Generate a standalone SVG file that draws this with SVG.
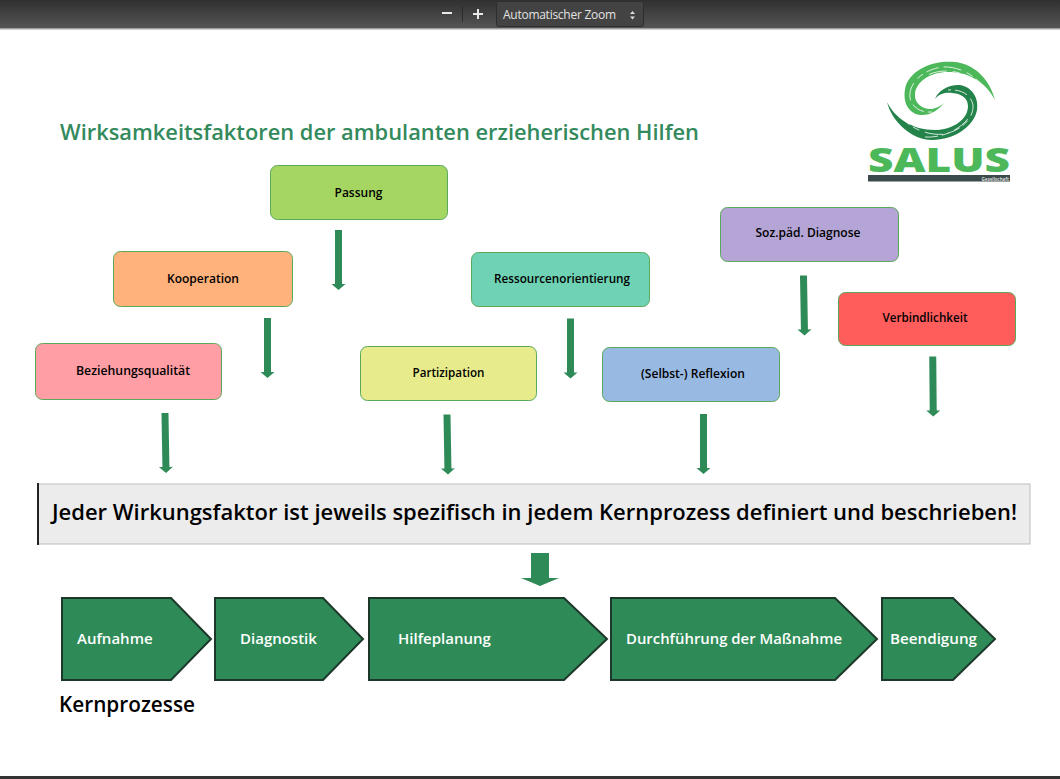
<svg xmlns="http://www.w3.org/2000/svg" width="1060" height="779" viewBox="0 0 1060 779">
<style>
text{font-family:"Open Sans","Liberation Sans",sans-serif}
.b{stroke-width:1;stroke:#5aa95a}
.l{font-size:12px;font-weight:600;fill:#000;text-anchor:middle}
.p{fill:#2e8b57;stroke:#1d382b;stroke-width:2}
.pl{font-size:15px;font-weight:600;fill:#fff}
.a{fill:#2e8b57}
.s{fill:none;stroke:#fff;stroke-width:.8;stroke-dasharray:13 4 7 6 18 5}
</style>
<defs>
<linearGradient id="tb" x1="0" y1="0" x2="0" y2="1"><stop offset="0" stop-color="#303030"/><stop offset="1" stop-color="#555"/></linearGradient>
<path id="ar" d="M-3.500 0H3.500V54H7L0 60L-7 54H-3.500Z"/>
</defs>
<rect width="1060" height="779" fill="#fff"/>
<g id="toolbar">
<rect width="1060" height="28" fill="url(#tb)"/>
<rect y="28" width="1060" height="1.500" fill="#a0a0a0"/>
<rect x="442" y="12" width="10" height="2" fill="#e8e8e8"/>
<rect x="462" y="6" width="1" height="16" fill="#2c2c2c"/>
<path d="M473 13h10v2h-10zM477 9h2v10h-2z" fill="#e8e8e8"/>
<rect x="496.500" y="1.500" width="147" height="25" rx="2" fill="#434343" stroke="#2e2e2e"/>
<text x="503" y="19" font-size="12" fill="#e2e2e2" textLength="113">Automatischer Zoom</text>
<path d="M630 14l2.500-3l2.500 3zM630 16.500l2.500 3l2.500-3z" fill="#ddd"/>
</g>
<text id="title" x="60" y="140" font-size="21.800" font-weight="600" fill="#338a5c" textLength="639" lengthAdjust="spacingAndGlyphs">Wirksamkeitsfaktoren der ambulanten erzieherischen Hilfen</text>
<g id="logo">
<path d="M995 100C986 82 968 72 948 72C930 72 916 82 915 94C914 104 924 110 932 109C937 108 941 106 944 103C938 110 930 116 920 115C906 113 902 98 906 85C913 68 935 60 955 62C975 64 990 80 995 100Z" fill="#4cb85a"/>
<path d="M887 102C895 118 912 130 935 130C952 130 968 120 968 106C968 95 955 92 945 93C940 94 937 96 935 99C938 90 950 84 960 85C972 87 979 98 977 110C974 126 955 140 932 140C912 140 892 122 887 102Z" fill="#23834a"/>
<path class="s" d="M985 88C972 72 955 66 942 67C922 70 908 84 910 98C912 108 922 113 932 112"/>
<path class="s" d="M975 80C960 70 940 68 926 76"/>
<path class="s" d="M900 116C912 130 930 136 945 134C962 130 974 118 973 105C971 94 960 89 948 90"/>
<path class="s" d="M925 137C945 138 962 128 970 116"/>
<rect x="868" y="175" width="142" height="6.500" fill="#3b4a4a"/>
<text x="868" y="172" font-size="33.500" font-weight="800" fill="#4cb85a" textLength="142" lengthAdjust="spacingAndGlyphs">SALUS</text>
<text x="1009" y="180.500" font-size="4.500" font-weight="700" text-anchor="end" fill="#ddd">Gesellschaft</text>
</g>
<g id="connectors" class="a">
<use href="#ar" x="338.500" y="230"/>
<use href="#ar" x="267.500" y="318"/>
<use href="#ar" x="165.500" y="413" transform="rotate(-1 165 443)"/>
<use href="#ar" x="570.500" y="318.500"/>
<use href="#ar" x="447.500" y="414.500" transform="rotate(-1 447 444)"/>
<use href="#ar" x="703.500" y="414"/>
<use href="#ar" x="804" y="275.500" transform="rotate(-1 804 305)"/>
<use href="#ar" x="933" y="356.500" transform="rotate(-.5 933 386)"/>
<path d="M531 553H549V578H559L540 586L521 578H531Z"/>
</g>
<g id="n-passung"><rect class="b" x="270.500" y="165.500" width="177" height="54" rx="7" fill="#a5d662"/><text class="l" x="358.500" y="197">Passung</text></g>
<g id="n-kooperation"><rect class="b" x="113.500" y="251.500" width="179" height="55" rx="7" fill="#ffb27c"/><text class="l" x="203" y="283">Kooperation</text></g>
<g id="n-beziehung"><rect class="b" x="35.500" y="343.500" width="186" height="56" rx="7" fill="#ff9fa5"/><text class="l" x="133" y="375" textLength="114" lengthAdjust="spacingAndGlyphs">Beziehungsqualität</text></g>
<g id="n-ressourcen"><rect class="b" x="471.500" y="252.500" width="178" height="54" rx="7" fill="#6fd2b4"/><text class="l" x="562" y="283" textLength="136" lengthAdjust="spacingAndGlyphs">Ressourcenorientierung</text></g>
<g id="n-partizipation"><rect class="b" x="360.500" y="346.500" width="176" height="54" rx="7" fill="#e8eb8c"/><text class="l" x="448.500" y="377" textLength="72" lengthAdjust="spacingAndGlyphs">Partizipation</text></g>
<g id="n-reflexion"><rect class="b" x="602.500" y="347.500" width="177" height="54" rx="7" fill="#98b9e2"/><text class="l" x="693" y="378" textLength="104" lengthAdjust="spacingAndGlyphs">(Selbst-) Reflexion</text></g>
<g id="n-diagnose"><rect class="b" x="720.500" y="207.500" width="178" height="54" rx="7" fill="#b4a5d6"/><text class="l" x="808" y="237" textLength="105" lengthAdjust="spacingAndGlyphs">Soz.päd. Diagnose</text></g>
<g id="n-verbindlichkeit"><rect class="b" x="838.500" y="292.500" width="177" height="53" rx="7" fill="#ff5c5c"/><text class="l" x="925" y="322" textLength="85" lengthAdjust="spacingAndGlyphs">Verbindlichkeit</text></g>
<g id="n-banner">
<rect x="38" y="484" width="992" height="60" fill="#ececec" stroke="#bdbdbd"/>
<rect x="37" y="483" width="2" height="62" fill="#222"/>
<text x="52" y="520" font-size="21.800" font-weight="600" fill="#000" textLength="965" lengthAdjust="spacingAndGlyphs">Jeder Wirkungsfaktor ist jeweils spezifisch in jedem Kernprozess definiert und beschrieben!</text>
</g>
<g id="n-aufnahme"><path class="p" d="M62 598H171L211 639L171 680H62Z"/><text class="pl" x="77" y="644">Aufnahme</text></g>
<g id="n-diagnostik"><path class="p" d="M215 598H323L363 639L323 680H215Z"/><text class="pl" x="240" y="644">Diagnostik</text></g>
<g id="n-hilfeplanung"><path class="p" d="M369 598H564L607 639L564 680H369Z"/><text class="pl" x="398" y="644">Hilfeplanung</text></g>
<g id="n-durchfuehrung"><path class="p" d="M611 598H835L877 639L835 680H611Z"/><text class="pl" x="626" y="644" textLength="216" lengthAdjust="spacingAndGlyphs">Durchführung der Maßnahme</text></g>
<g id="n-beendigung"><path class="p" d="M882 598H953L995 639L953 680H882Z"/><text class="pl" x="890" y="644" textLength="87" lengthAdjust="spacingAndGlyphs">Beendigung</text></g>
<text id="kern" x="59" y="712" font-size="21" font-weight="600" fill="#000" textLength="136" lengthAdjust="spacingAndGlyphs">Kernprozesse</text>
<rect id="bottom-edge" y="776" width="1060" height="3" fill="#333"/>
</svg>
